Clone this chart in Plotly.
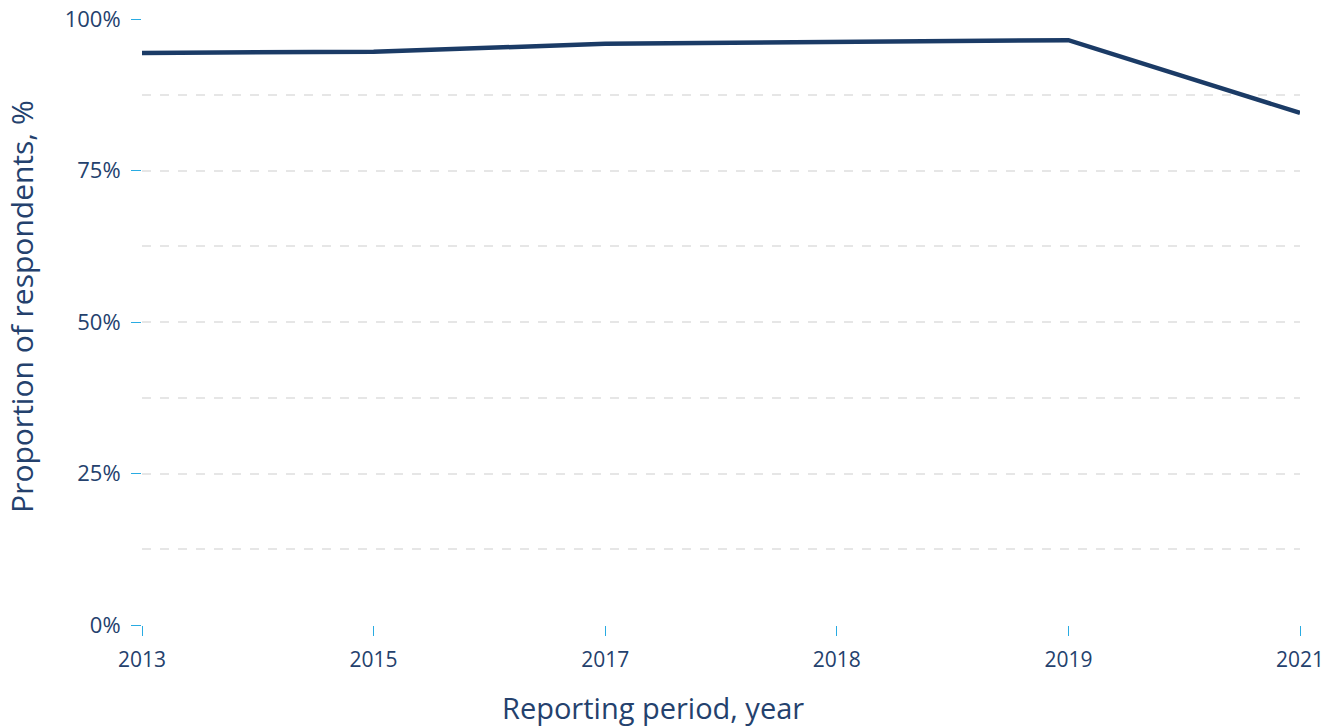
import plotly.graph_objects as go

years = ["2013", "2015", "2017", "2018", "2019", "2021"]
share = [94.4, 94.6, 95.9, 96.2, 96.5, 84.5]

y_ticks = [0, 25, 50, 75, 100]
y_labels = ["0%", "25%", "50%", "75%", "100%"]

text_color = "#24416d"
tick_color = "#29abe2"

fig = go.Figure(
    data=go.Scatter(
        x=years,
        y=share,
        mode="lines",
        line=dict(color="#1b3b66", width=4.5),
        hoverinfo="skip",
    )
)

fig.update_layout(
    width=1339,
    height=728,
    margin=dict(l=142, r=39, t=19, b=103),
    plot_bgcolor="white",
    paper_bgcolor="white",
    showlegend=False,
    font=dict(family="Open Sans", color=text_color, size=22),
)

fig.update_xaxes(
    type="category",
    range=[0, 5],
    automargin=False,
    showgrid=False,
    zeroline=False,
    showline=False,
    ticks="outside",
    ticklen=10,
    tickwidth=1.2,
    tickcolor=tick_color,
    ticklabelstandoff=6,
    tickfont=dict(size=21, color=text_color),
)

fig.update_yaxes(
    range=[0, 100],
    automargin=False,
    tickvals=y_ticks,
    ticktext=y_labels,
    showgrid=True,
    gridcolor="#e6e6e6",
    griddash="dash",
    gridwidth=1.5,
    zeroline=False,
    showline=False,
    ticks="outside",
    ticklen=10,
    tickwidth=1.2,
    tickcolor=tick_color,
    ticklabelstandoff=6,
    ticklabeloverflow="allow",
    tickfont=dict(size=22, color=text_color),
    minor=dict(tickvals=[12.5, 37.5, 62.5, 87.5], showgrid=True, gridcolor="#e6e6e6",
               griddash="dash", gridwidth=1.5, ticks=""),
)

# axis titles placed as annotations so they sit where the original has them
fig.add_annotation(text="Reporting period, year", xref="paper", yref="paper",
                   x=0.441, y=-0.136, xanchor="center", yanchor="middle",
                   showarrow=False, font=dict(size=29, color=text_color))
fig.add_annotation(text="Proportion of respondents, %", xref="paper", yref="paper",
                   x=-0.1036, y=0.525, xanchor="center", yanchor="middle", textangle=-90,
                   showarrow=False, font=dict(size=30, color=text_color))

fig.write_html("out.html", config={"displayModeBar": False},
               post_script="document.body.style.margin = '0';")
